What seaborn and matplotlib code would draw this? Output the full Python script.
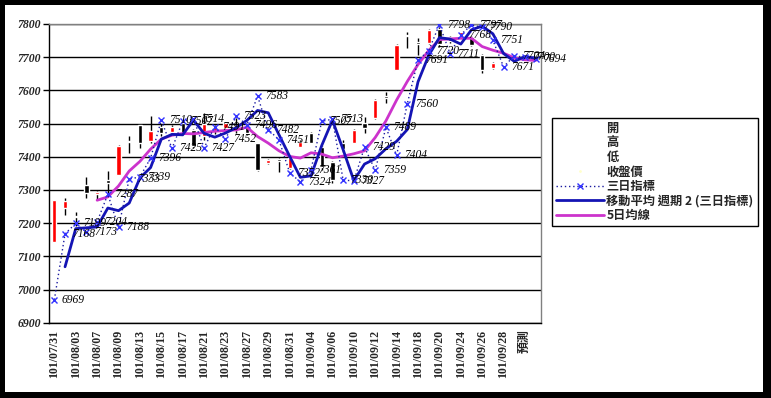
import numpy as np
import pandas as pd
import matplotlib
matplotlib.use("Agg")
import matplotlib.pyplot as plt
import seaborn as sns
from matplotlib.lines import Line2D
from matplotlib.patches import Rectangle

# categories (trading days + forecast slots)
dates = ["101/07/31", "101/08/01", "101/08/03", "101/08/06", "101/08/07", "101/08/08",
         "101/08/09", "101/08/10", "101/08/13", "101/08/14", "101/08/15", "101/08/16",
         "101/08/17", "101/08/20", "101/08/21", "101/08/22", "101/08/23", "101/08/24",
         "101/08/27", "101/08/28", "101/08/29", "101/08/30", "101/08/31", "101/09/03",
         "101/09/04", "101/09/05", "101/09/06", "101/09/07", "101/09/10", "101/09/11",
         "101/09/12", "101/09/13", "101/09/14", "101/09/17", "101/09/18", "101/09/19",
         "101/09/20", "101/09/21", "101/09/24", "101/09/25", "101/09/26", "101/09/27",
         "101/09/28", "", "預測", ""]

nan = np.nan
opens = [7143, 7245, 7222, 7315, 7289, 7331, 7346, 7447, 7496, 7448, 7490, 7475,
         7502, 7481, 7462, 7478, 7487, 7493, 7493, 7440, 7381, 7392, 7366, 7430,
         7472, 7430, 7385, 7442, 7442, 7502, 7517, 7582, 7662, 7768, 7745, 7743,
         7785, 7760, 7762, 7760, 7707, 7668, nan, nan, nan, nan]
highs = [7270, 7276, 7234, 7339, 7298, 7356, 7434, 7462, 7499, 7522, 7500, 7495,
         7506, 7484, 7532, 7495, 7506, 7517, 7500, 7442, 7392, 7396, 7398, 7451,
         7476, 7432, 7388, 7450, 7483, 7520, 7573, 7595, 7739, 7776, 7758, 7784,
         7790, 7763, 7777, 7763, 7710, 7686, nan, nan, nan, nan]
lows = [7143, 7225, 7190, 7276, 7270, 7281, 7344, 7410, 7426, 7442, 7463, 7470,
        7470, 7425, 7451, 7470, 7481, 7472, 7465, 7358, 7378, 7355, 7362, 7428,
        7440, 7360, 7322, 7415, 7440, 7472, 7515, 7562, 7660, 7728, 7707, 7741,
        7730, 7744, 7760, 7735, 7652, 7665, nan, nan, nan, nan]
closes = [7270, 7268, 7219, 7291, 7295, 7322, 7432, 7443, 7440, 7478, 7472, 7490,
          7472, 7431, 7500, 7490, 7503, 7480, 7472, 7360, 7390, 7388, 7396, 7445,
          7442, 7370, 7330, 7423, 7481, 7487, 7571, 7578, 7737, 7764, 7741, 7782,
          7740, 7748, 7775, 7738, 7660, 7683, nan, nan, nan, nan]

index3 = [6969, 7168, 7199, 7173, 7204, 7287, 7188, 7333, 7339, 7396, 7510, 7425,
          7507, 7514, 7427, 7491, 7452, 7523, 7496, 7583, 7482, 7451, 7352, 7324,
          7361, 7507, 7513, 7330, 7327, 7429, 7359, 7489, 7404, 7560, 7691, 7720,
          7798, 7711, 7768, 7797, 7790, 7751, 7671, 7704, 7700, 7694]

ma5 = [nan, nan, nan, nan, 7269, 7279, 7312, 7357, 7386, 7423, 7453, 7465,
       7470, 7469, 7473, 7477, 7479, 7481, 7489, 7461, 7441, 7418, 7401, 7396,
       7412, 7408, 7397, 7402, 7409, 7418, 7458, 7508, 7571, 7627, 7678, 7720,
       7753, 7755, 7757, 7757, 7732, 7721, 7712, 7698, 7692, 7690]

yticks = list(range(6900, 7801, 100))

sns.set_style("white")
plt.rcParams['font.family'] = ['Noto Sans CJK TC', 'DejaVu Sans']

df = pd.DataFrame({"x": np.arange(len(dates)), "open": opens, "high": highs,
                   "low": lows, "close": closes, "idx3": index3, "ma5": ma5})
# Excel trendline: 2-period moving average of the 三日指標 series
df["ma2"] = df["idx3"].rolling(2).mean()

W, H = 771, 398
fig = plt.figure(figsize=(W / 100, H / 100), dpi=100)
fig.patch.set_facecolor("black")
fig.add_artist(Rectangle((5 / W, 6 / H), 758 / W, 387 / H, transform=fig.transFigure,
                         facecolor="white", edgecolor="none", zorder=0))
ax = fig.add_axes([49 / W, 1 - 322.7 / H, 492 / W, (322.7 - 24) / H])
ax.set_zorder(1)
ax.set_facecolor("white")

# candlesticks
cdf = df.dropna(subset=["open"])
up = cdf["close"] >= cdf["open"]
ax.vlines(cdf["x"], cdf["low"], cdf["high"], color="black", lw=1, zorder=2)
body = (cdf["close"] - cdf["open"]).abs().clip(lower=3)
bottom = cdf[["open", "close"]].min(axis=1)
ax.bar(cdf["x"][up], body[up], bottom=bottom[up], width=0.4, color="#FF0000", zorder=3)
ax.bar(cdf["x"][~up], body[~up], bottom=bottom[~up], width=0.4, color="black", zorder=3)

# lines
sns.lineplot(data=df.dropna(subset=["ma5"]), x="x", y="ma5", ax=ax, color="#CC33CC",
             lw=2, zorder=4)
sns.lineplot(data=df.dropna(subset=["ma2"]), x="x", y="ma2", ax=ax, color="#1414B4",
             lw=2, zorder=5)
sns.lineplot(data=df, x="x", y="idx3", ax=ax, color="#1A1AA0", lw=1,
             linestyle=(0, (1, 2)), marker="x", markersize=5, mec="#3333FF", mew=1,
             zorder=6)

for xi, v in zip(df["x"], df["idx3"]):
    ax.annotate(f"{v}", (xi, v), xytext=(5.5, 0), textcoords="offset points",
                ha="left", va="center", fontsize=8.3, style="italic",
                family=["Liberation Serif", "DejaVu Serif"], color="black", zorder=7)

ax.set_xlim(-0.5, len(dates) - 0.5)
ax.set_ylim(6900, 7800)
ax.set_yticks(yticks)
ax.set_yticklabels([str(t) for t in yticks])
ax.yaxis.grid(True, color="black", lw=1)
ax.set_axisbelow(True)
ax.set_xticks(df["x"][::2])
ax.set_xticklabels(dates[::2], rotation=90)
ax.set_xticks(np.arange(len(dates) + 1) - 0.5, minor=True)
ax.tick_params(axis="x", which="major", length=0, pad=5)
ax.tick_params(axis="x", which="minor", length=4, width=1, color="black", direction="out")
ax.tick_params(axis="y", length=4, width=1, color="black", direction="out", pad=2, left=True)
ax.set_xlabel("")
ax.set_ylabel("")
for lab in ax.get_yticklabels():
    lab.set_fontfamily(["Liberation Serif", "DejaVu Serif"])
    lab.set_fontweight("bold")
    lab.set_fontstyle("italic")
    lab.set_fontsize(8.5)
for lab in ax.get_xticklabels():
    lab.set_fontfamily(["Liberation Serif", "Noto Sans CJK TC"])
    lab.set_fontweight("bold")
    lab.set_fontsize(8.6)

for s in ["left", "bottom"]:
    ax.spines[s].set_color("black")
    ax.spines[s].set_linewidth(1)
for s in ["top", "right"]:
    ax.spines[s].set_color("#808080")
    ax.spines[s].set_linewidth(1)

blank = Line2D([], [], linestyle="none")
handles = [blank, blank, blank,
           Line2D([], [], linestyle="none", marker=".", color="#FFFFCC", ms=2),
           Line2D([], [], color="#1A1AA0", lw=1, linestyle=(0, (1, 2)), marker="x",
                  ms=5, mec="#3333FF"),
           Line2D([], [], color="#1414B4", lw=2),
           Line2D([], [], color="#CC33CC", lw=2)]
labels = ["開", "高", "低", "收盤價", "三日指標", "移動平均 週期 2 (三日指標)", "5日均線"]
leg = fig.legend(handles, labels, loc="upper left", bbox_to_anchor=(552 / W, 1 - 118 / H),
                 frameon=True, fancybox=False, edgecolor="black", framealpha=1,
                 handlelength=3.9, handletextpad=0.2, labelspacing=0.12, borderpad=0.35,
                 borderaxespad=0, prop={"family": ["Noto Sans CJK TC", "DejaVu Sans"],
                                         "weight": "bold", "size": 8.8})
leg.get_frame().set_linewidth(1)
leg.set_zorder(3)

fig.savefig("out.png", dpi=100, facecolor=fig.get_facecolor())
